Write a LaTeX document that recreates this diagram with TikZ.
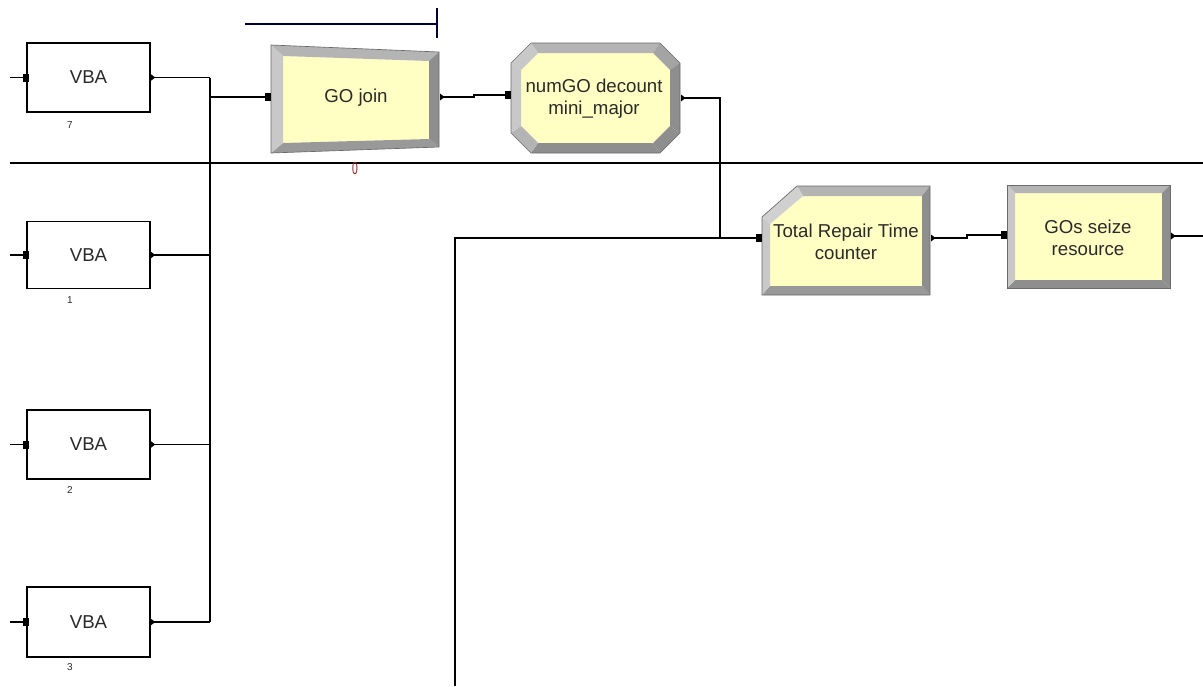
\documentclass[tikz,border=0pt]{standalone}
\usepackage{fontspec}
\setmainfont{Liberation Sans}
\definecolor{modfill}{HTML}{FFFFC4}
\definecolor{bvlight}{HTML}{C8C8C8}
\definecolor{bvmid}{HTML}{B4B4B4}
\definecolor{bvdark}{HTML}{8E8E8E}
\definecolor{bvedge}{HTML}{6A6A6A}
\definecolor{zerored}{HTML}{8B2020}
\definecolor{txt}{HTML}{2A2A2A}
\newcommand\inportmark[1]{\fill[black] (#1) ++(-3.5,-4) rectangle ++(6,8);}
\newcommand\outportmark[1]{\fill[black] (#1) ++(0,-3.5) -- ++(4.5,3.5) -- ++(-4.5,3.5) -- cycle;}
\begin{document}
\begin{tikzpicture}[x=0.75pt,y=-0.75pt,
  wire/.style={line width=1pt,black},
  vbabox/.style={draw,line width=1pt,fill=white,minimum width=92.25pt,minimum height=51.75pt,inner sep=0pt,text=txt,font=\fontsize{14}{16}\selectfont},
  modtext/.style={align=center,inner sep=0pt,text=txt,font=\fontsize{14}{16.5}\selectfont},
  lbl/.style={inner sep=0pt,text=txt,font=\fontsize{7.5}{9}\selectfont},
  outline/.style={draw=bvedge,line width=0.5pt}]
\useasboundingbox (0,0) rectangle (1203,686);

% ---------- long horizontal separator and top bar ----------
\coordinate (sepL) at (10,163);
\coordinate (sepR) at (1203,163);
\draw[wire] (sepL) -- (sepR);
\coordinate (barL) at (245,24);
\coordinate (barR) at (437,24);
\coordinate (tickT) at (437,8);
\coordinate (tickB) at (437,38);
\draw[line width=0.8pt,black!80!blue] (barL) -- (barR);
\draw[line width=0.8pt,black!80!blue] (tickT) -- (tickB);

% ---------- VBA blocks ----------
\node[vbabox] (vba7) at (88.5,77.5) {VBA};
\node[vbabox,minimum height=50.25pt] (vba1) at (88.5,255) {VBA};
\node[vbabox] (vba2) at (88.5,444.5) {VBA};
\node[vbabox,minimum height=52.5pt] (vba3) at (88.5,622) {VBA};
\node[lbl] (l7) at (70,125) {7};
\node[lbl] (l1) at (70,300) {1};
\node[lbl] (l2) at (70,490) {2};
\node[lbl] (l3) at (70,667) {3};

\foreach \v/\y in {vba7/77.5,vba1/255,vba2/444.5,vba3/622}{
  \coordinate (\v-l) at (10,\y);
  \coordinate (\v-b) at (210,\y);
  \draw[wire] (\v-l) -- (\v.west);
  \draw[wire] (\v.east) -- (\v-b);
  \inportmark{\v.west}
  \outportmark{\v.east}
}
\draw[wire] (vba7-b) -- (vba3-b);

% ---------- GO join ----------
\fill[modfill] (283,56) -- (429,61) -- (429,139) -- (283,143) -- cycle;
\fill[bvmid]   (271,45) -- (439,52) -- (429,61) -- (283,56) -- cycle;
\fill[bvdark]  (439,52) -- (439,147) -- (429,139) -- (429,61) -- cycle;
\fill[bvdark!90!white] (439,147) -- (271,153) -- (283,143) -- (429,139) -- cycle;
\fill[bvlight] (271,153) -- (271,45) -- (283,56) -- (283,143) -- cycle;
\draw[outline] (271,45) -- (439,52) -- (439,147) -- (271,153) -- cycle;
\node[modtext] (join) at (356,98) {GO join};
\coordinate (join-in) at (268,97);
\coordinate (join-out) at (440,97);
\node[inner sep=0pt,text=zerored,xscale=0.6,font=\fontsize{13}{14}\selectfont] (zero) at (355,169) {0};

% ---------- numGO decount ----------
\fill[modfill] (538,53) -- (653,53) -- (670,70) -- (670,126) -- (653,143) -- (538,143) -- (521,126) -- (521,70) -- cycle;
\fill[bvmid]   (531,43) -- (660,43) -- (653,53) -- (538,53) -- cycle;
\fill[bvdark!80!white] (660,43) -- (680,63) -- (670,70) -- (653,53) -- cycle;
\fill[bvdark]  (680,63) -- (680,133) -- (670,126) -- (670,70) -- cycle;
\fill[bvdark]  (680,133) -- (660,153) -- (653,143) -- (670,126) -- cycle;
\fill[bvdark]  (660,153) -- (531,153) -- (538,143) -- (653,143) -- cycle;
\fill[bvmid]   (531,153) -- (511,133) -- (521,126) -- (538,143) -- cycle;
\fill[bvlight] (511,133) -- (511,63) -- (521,70) -- (521,126) -- cycle;
\fill[bvlight] (511,63) -- (531,43) -- (538,53) -- (521,70) -- cycle;
\draw[outline] (531,43) -- (660,43) -- (680,63) -- (680,133) -- (660,153) -- (531,153) -- (511,133) -- (511,63) -- cycle;
\node[modtext] (decount) at (594,99) {numGO decount\\mini\_major};
\coordinate (decount-in) at (508,95);
\coordinate (decount-out) at (681,98);

% ---------- Total Repair Time counter ----------
\fill[modfill] (803,196) -- (922,196) -- (922,286) -- (770,286) -- (770,224) -- cycle;
\fill[bvmid]   (797,186) -- (930,186) -- (922,196) -- (803,196) -- cycle;
\fill[bvdark]  (930,186) -- (930,295) -- (922,286) -- (922,196) -- cycle;
\fill[bvdark!90!white] (930,295) -- (762,295) -- (770,286) -- (922,286) -- cycle;
\fill[bvlight] (762,295) -- (762,217) -- (770,224) -- (770,286) -- cycle;
\fill[bvlight!85!white] (762,217) -- (797,186) -- (803,196) -- (770,224) -- cycle;
\draw[outline] (797,186) -- (930,186) -- (930,295) -- (762,295) -- (762,217) -- cycle;
\node[modtext] (repair) at (846,242) {Total Repair Time\\counter};
\coordinate (repair-in) at (759,238);
\coordinate (repair-out) at (931,238);

% ---------- GOs seize resource ----------
\fill[modfill] (1015,193) rectangle (1162,280);
\fill[bvmid]   (1007,185) -- (1170,185) -- (1162,193) -- (1015,193) -- cycle;
\fill[bvdark]  (1170,185) -- (1170,288) -- (1162,280) -- (1162,193) -- cycle;
\fill[bvdark]  (1170,288) -- (1007,288) -- (1015,280) -- (1162,280) -- cycle;
\fill[bvlight] (1007,288) -- (1007,185) -- (1015,193) -- (1015,280) -- cycle;
\draw[outline] (1007,185) rectangle (1170,288);
\node[modtext] (seize) at (1088,238) {GOs seize\\resource};
\coordinate (seize-in) at (1004,235);
\coordinate (seize-out) at (1171,236);
\coordinate (seize-end) at (1203,236);

% ---------- connectors ----------
\coordinate (busJ) at (210,97);
\draw[wire] (busJ) -- (join-in);
\coordinate (j1) at (474,97);
\coordinate (j2) at (474,95);
\draw[wire] (join-out) -- (j1) -- (j2) -- (decount-in);
\coordinate (d1) at (720,98);
\coordinate (d2) at (720,238);
\draw[wire] (decount-out) -- (d1) -- (d2);
\coordinate (feedB) at (455,686);
\coordinate (feedC) at (455,238);
\draw[wire] (feedB) -- (feedC) -- (repair-in);
\coordinate (r1) at (967,238);
\coordinate (r2) at (967,235);
\draw[wire] (repair-out) -- (r1) -- (r2) -- (seize-in);
\draw[wire] (seize-out) -- (seize-end);

\inportmark{join-in}
\outportmark{join-out}
\inportmark{decount-in}
\outportmark{decount-out}
\inportmark{repair-in}
\outportmark{repair-out}
\inportmark{seize-in}
\outportmark{seize-out}
\end{tikzpicture}
\end{document}
